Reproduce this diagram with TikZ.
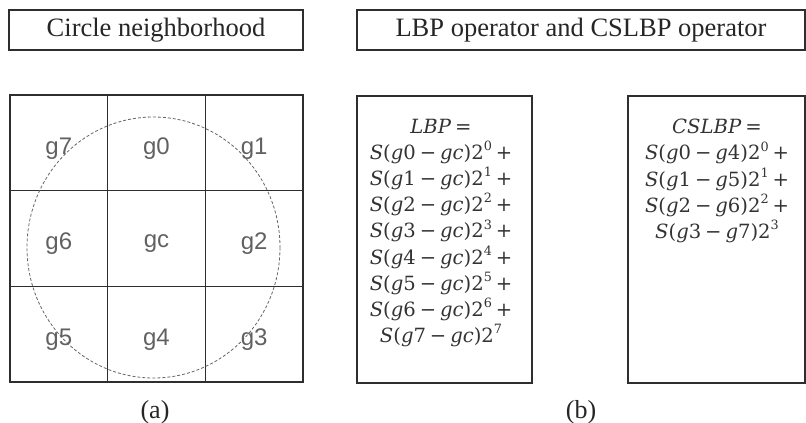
\documentclass[tikz,border=0pt]{standalone}
\usepackage{fontspec}
\setmainfont{Liberation Serif}
\newfontfamily\gridfont{Liberation Sans}
\newfontfamily\eqfont{DejaVu Serif}
% formula helpers: italic variable, small gap, raised exponent
\newcommand\mi[1]{\textit{#1}}
\newcommand\gap{\hspace{0.2em}}
\newcommand\ex[1]{\raisebox{0.45em}{\fontsize{12.8}{12.8}\selectfont #1}}
\begin{document}
\begin{tikzpicture}[x=1pt,y=-1pt,
  frame/.style={draw=black!82, line width=1.6pt},
  titlebox/.style={frame, minimum height=40pt, inner sep=0pt,
    font=\fontsize{26.5}{30}\selectfont, text=black!85},
  cell/.style={frame, minimum width=97.7pt, minimum height=95.7pt, inner sep=0pt},
  cellname/.style={inner sep=0pt, font=\gridfont\fontsize{24}{28}\selectfont, text=black!62},
  opbox/.style={frame, minimum height=287pt, inner sep=0pt},
  formula/.style={align=center, inner sep=0pt, text=black!80,
    font=\eqfont\fontsize{19.6}{26.2}\selectfont},
  caption/.style={font=\fontsize{26}{30}\selectfont, text=black!85},
  ring/.style={draw=black!60, line width=0.8pt, dash pattern=on 3pt off 2pt}]
\useasboundingbox (0,0) rectangle (806,423);

% headings
\node[titlebox, minimum width=294pt] (t1) at (156,30) {Circle neighborhood};
\node[titlebox, minimum width=448pt] (t2) at (581,30) {LBP operator and CSLBP operator};

% 3x3 neighbourhood grid
\node[cell] (c7) at (58.8,142.8) {};
\node[cell] (c0) at (156.5,142.8) {};
\node[cell] (c1) at (254.2,142.8) {};
\node[cell] (c6) at (58.8,238.5) {};
\node[cell] (cc) at (156.5,238.5) {};
\node[cell] (c2) at (254.2,238.5) {};
\node[cell] (c5) at (58.8,334.2) {};
\node[cell] (c4) at (156.5,334.2) {};
\node[cell] (c3) at (254.2,334.2) {};

% pixel names, set a little below each cell centre
\foreach \c/\t in {c7/g7, c0/g0, c1/g1, c6/g6, cc/gc, c2/g2, c5/g5, c4/g4, c3/g3}
  \node[cellname] (n\c) at ([yshift=-5.5pt]\c.center) {\t};

% sampling circle
\draw[ring] (153.5,247.5) ellipse [x radius=126.5, y radius=130.5];

% operator boxes
\node[opbox, minimum width=175pt] (lbp) at (444.5,239.5) {};
\node[opbox, minimum width=177pt] (cslbp) at (716.5,239.5) {};

\node[formula] (lbpeq) at (441,233) {%
  \mi{LBP}\gap=\\
  \mi{S}(\mi{g}0\gap−\gap\mi{gc})2\ex{0}\gap+\\
  \mi{S}(\mi{g}1\gap−\gap\mi{gc})2\ex{1}\gap+\\
  \mi{S}(\mi{g}2\gap−\gap\mi{gc})2\ex{2}\gap+\\
  \mi{S}(\mi{g}3\gap−\gap\mi{gc})2\ex{3}\gap+\\
  \mi{S}(\mi{g}4\gap−\gap\mi{gc})2\ex{4}\gap+\\
  \mi{S}(\mi{g}5\gap−\gap\mi{gc})2\ex{5}\gap+\\
  \mi{S}(\mi{g}6\gap−\gap\mi{gc})2\ex{6}\gap+\\
  \mi{S}(\mi{g}7\gap−\gap\mi{gc})2\ex{7}};

\node[formula] (cslbpeq) at (717,181) {%
  \mi{CSLBP}\gap=\\
  \mi{S}(\mi{g}0\gap−\gap\mi{g}4)2\ex{0}\gap+\\
  \mi{S}(\mi{g}1\gap−\gap\mi{g}5)2\ex{1}\gap+\\
  \mi{S}(\mi{g}2\gap−\gap\mi{g}6)2\ex{2}\gap+\\
  \mi{S}(\mi{g}3\gap−\gap\mi{g}7)2\ex{3}};

% captions
\node[caption] (capa) at (155,412) {(a)};
\node[caption] (capb) at (581,412) {(b)};
\end{tikzpicture}
\end{document}
